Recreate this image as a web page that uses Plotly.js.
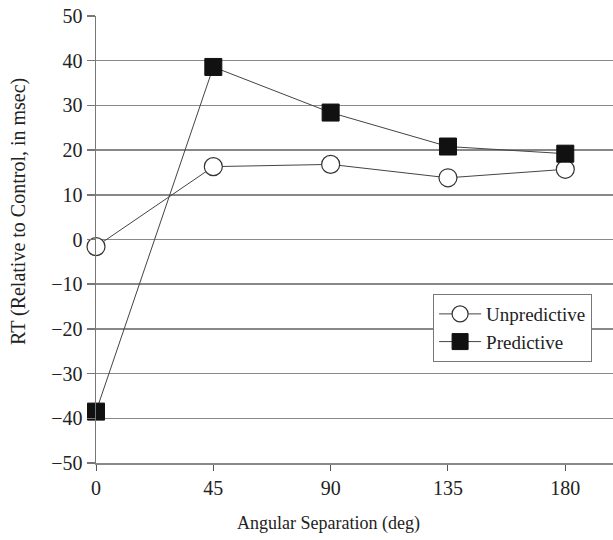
<!DOCTYPE html>
<html><head><meta charset="utf-8">
<script src="https://cdn.plot.ly/plotly-3.0.1.min.js"></script>
<style>html,body{margin:0;padding:0;background:#fff}</style>
</head><body><div id="chart" style="width:613px;height:540px"></div>
<script>
const angles = [0, 45, 90, 135, 180];
const unpredictive = [-1.6, 16.3, 16.8, 13.8, 15.7];
const predictive = [-38.5, 38.6, 28.4, 20.8, 19.2];
const xTicks = [0, 45, 90, 135, 180];
const yTicks = [-50, -40, -30, -20, -10, 0, 10, 20, 30, 40, 50];
const xTitle = 'Angular Separation (deg)';
const yTitle = 'RT (Relative to Control, in msec)';

const fam = '"Liberation Serif", "Times New Roman", serif';
const font = {family: fam, size: 19, color: '#222'};
const tickFont = {family: fam, size: 20, color: '#222'};

const traces = [
  {x: angles, y: unpredictive, name: 'Unpredictive', mode: 'lines+markers', type: 'scatter',
   cliponaxis: false,
   line: {color: '#444', width: 1},
   marker: {symbol: 'circle', size: 18, color: '#fff', line: {color: '#333', width: 1.2}}},
  {x: angles, y: predictive, name: 'Predictive', mode: 'lines+markers', type: 'scatter',
   cliponaxis: false,
   line: {color: '#444', width: 1},
   marker: {symbol: 'square', size: 17, color: '#111', line: {color: '#111', width: 1}}}
];

const layout = {
  width: 613, height: 540,
  margin: {l: 96, r: 0, t: 16, b: 77},
  paper_bgcolor: '#fff', plot_bgcolor: '#fff',
  font: font,
  showlegend: true,
  legend: {x: 0.652, y: 0.378, xanchor: 'left', yanchor: 'top', bgcolor: '#fff',
           bordercolor: '#777', borderwidth: 1, font: font, itemwidth: 42,
           tracegroupgap: 0},
  xaxis: {range: [0, 198.3], tickvals: xTicks, ticktext: xTicks.map(String),
          ticks: 'outside', ticklen: 6, tickcolor: '#555', tickwidth: 1,
          showgrid: false, zeroline: false, showline: true, linecolor: '#888', linewidth: 1.5,
          tickfont: tickFont},
  yaxis: {range: [-50, 50], tickvals: yTicks, ticktext: yTicks.map(v => v < 0 ? '\u2212' + Math.abs(v) : String(v)),
          ticks: 'outside', ticklen: 8, tickcolor: '#777', tickwidth: 1.5,
          showgrid: true, gridcolor: '#888', gridwidth: 1.5,
          zeroline: true, zerolinecolor: '#888', zerolinewidth: 1.5,
          showline: true, linecolor: '#777', linewidth: 1.5,
          tickfont: tickFont},
  annotations: [
    {text: xTitle, xref: 'paper', yref: 'paper', x: (328 - 96) / 517, y: (463 - 523) / 447,
     xanchor: 'center', yanchor: 'middle', showarrow: false, font: {family: fam, size: 18, color: '#222'}},
    {text: yTitle, xref: 'paper', yref: 'paper', x: (19 - 96) / 517, y: (463 - 212) / 447,
     xanchor: 'center', yanchor: 'middle', textangle: -90, showarrow: false,
     font: {family: fam, size: 20, color: '#222'}}
  ]
};

Plotly.newPlot('chart', traces, layout, {displayModeBar: false, staticPlot: true});
</script>
</body></html>
